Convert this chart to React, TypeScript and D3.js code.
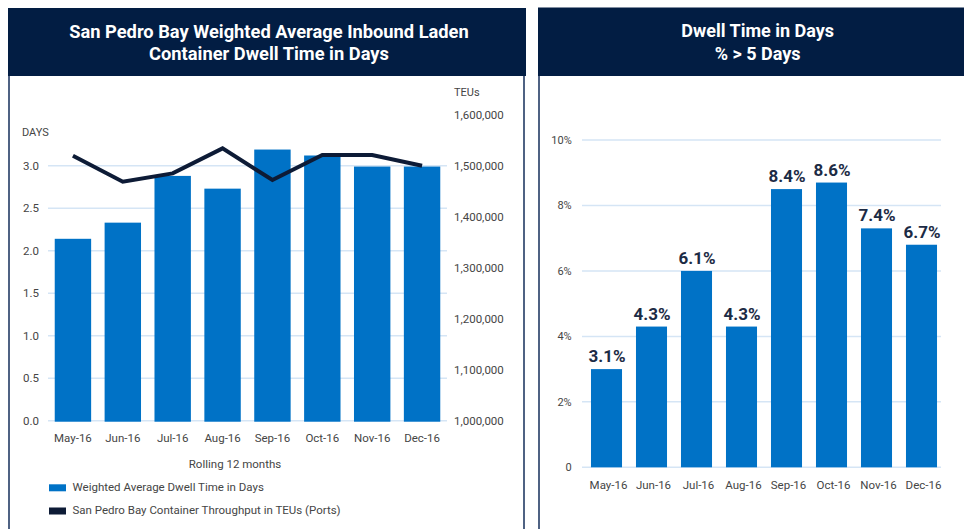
import { line, scaleBand, scaleLinear } from 'd3';

const months = ['May-16', 'Jun-16', 'Jul-16', 'Aug-16', 'Sep-16', 'Oct-16', 'Nov-16', 'Dec-16'];
const dwellDays = [2.14, 2.33, 2.88, 2.73, 3.19, 3.12, 2.99, 2.99];
const throughputTeus = [1519600, 1468600, 1484900, 1533900, 1472000, 1521000, 1521000, 1500000];
const daysTicks = [0, 0.5, 1.0, 1.5, 2.0, 2.5, 3.0];
const teuTicks = [1000000, 1100000, 1200000, 1300000, 1400000, 1500000, 1600000];

const pctOver5 = [3.0, 4.3, 6.0, 4.3, 8.5, 8.7, 7.3, 6.8];
const pctLabels = ['3.1%', '4.3%', '6.1%', '4.3%', '8.4%', '8.6%', '7.4%', '6.7%'];
const pctTicks = [0, 2, 4, 6, 8, 10];

const W = 964;
const H = 529;
const navy = '#021d43';
const border = '#4f6283';
const barBlue = '#0072c6';
const lineNavy = '#0d1b36';
const grid = '#d5e5f5';
const axisText = '#454545';
const font = 'Roboto, "Noto Sans", sans-serif';

// left panel
const L = { x0: 48, x1: 447, yZero: 420.7, yTop: 114.7 };
// right panel
const R = { x0: 582, x1: 941, yZero: 467.3, yTop: 140 };

export default function App() {
  const xLeft = scaleBand<string>()
    .domain(months)
    .range([L.x0, L.x1])
    .paddingInner(0.27)
    .paddingOuter(0.135);
  const yDays = scaleLinear().domain([0, 3.6]).range([L.yZero, L.yTop]);
  const yTeu = scaleLinear().domain([1000000, 1600000]).range([L.yZero, L.yTop]);

  const teuPath = line<number>()
    .x((_, i) => (xLeft(months[i]) ?? 0) + xLeft.bandwidth() / 2)
    .y(v => yTeu(v))(throughputTeus);

  const xRight = scaleBand<string>()
    .domain(months)
    .range([584, 944])
    .paddingInner(0.31)
    .paddingOuter(0.155);
  const yPct = scaleLinear().domain([0, 10]).range([R.yZero, R.yTop]);

  const fmt = (v: number) => v.toLocaleString('en-US');

  return (
    <svg
      width={W}
      height={H}
      viewBox={`0 0 ${W} ${H}`}
      style={{ position: 'absolute', left: 0, top: 0, fontFamily: font }}
    >
      <rect width={W} height={H} fill="#ffffff" />

      {/* panel frames */}
      <line x1={9} x2={9} y1={76} y2={H} stroke={border} strokeWidth={2} />
      <line x1={524} x2={524} y1={76} y2={H} stroke={border} strokeWidth={2} />
      <line x1={539} x2={539} y1={75} y2={H} stroke={border} strokeWidth={2} />
      <rect x={8} y={8} width={518} height={68} fill={navy} />
      <rect x={538} y={7.5} width={W - 538} height={68.5} fill={navy} />

      <text x={269} textAnchor="middle" fill="#ffffff" fontSize={18.3} fontWeight={700}>
        <tspan x={269} y={37.5}>San Pedro Bay Weighted Average Inbound Laden</tspan>
        <tspan x={269} y={60}>Container Dwell Time in Days</tspan>
      </text>
      <text x={757.7} textAnchor="middle" fill="#ffffff" fontSize={18} fontWeight={700}>
        <tspan x={757.7} y={36.5}>Dwell Time in Days</tspan>
        <tspan x={757.7} y={60}>% &gt; 5 Days</tspan>
      </text>

      {/* left chart */}
      {daysTicks.map(t => (
        <g key={`d${t}`}>
          <line x1={L.x0} x2={L.x1} y1={yDays(t)} y2={yDays(t)} stroke={grid} strokeWidth={1.5} />
          <text x={39} y={yDays(t) + 4} textAnchor="end" fontSize={11.5} fill={axisText}>
            {t.toFixed(1)}
          </text>
        </g>
      ))}
      {teuTicks.map(t => (
        <text key={`t${t}`} x={454} y={yTeu(t) + 4} fontSize={11.5} fill={axisText}>
          {fmt(t)}
        </text>
      ))}
      <text x={22} y={136} fontSize={11} fill={axisText}>DAYS</text>
      <text x={454} y={96} fontSize={11} fill={axisText}>TEUs</text>

      {months.map((m, i) => (
        <rect
          key={`lb${m}`}
          x={xLeft(m)}
          y={yDays(dwellDays[i])}
          width={xLeft.bandwidth()}
          height={L.yZero + 1 - yDays(dwellDays[i])}
          fill={barBlue}
        />
      ))}
      {teuPath && (
        <path d={teuPath} fill="none" stroke={lineNavy} strokeWidth={4} strokeLinejoin="miter" />
      )}
      {months.map(m => (
        <text
          key={`lx${m}`}
          x={(xLeft(m) ?? 0) + xLeft.bandwidth() / 2}
          y={441.5}
          textAnchor="middle"
          fontSize={11.5}
          fill={axisText}
        >
          {m}
        </text>
      ))}
      <text x={235} y={467.5} textAnchor="middle" fontSize={11.5} fill={axisText}>Rolling 12 months</text>

      <rect x={49} y={484.3} width={17} height={7} fill={barBlue} />
      <text x={72.5} y={491} fontSize={11.5} fill={axisText}>Weighted Average Dwell Time in Days</text>
      <rect x={49} y={507.5} width={17} height={7} fill={lineNavy} />
      <text x={72.5} y={514.3} fontSize={11.5} fill={axisText}>San Pedro Bay Container Throughput in TEUs (Ports)</text>

      {/* right chart */}
      {pctTicks.map(t => (
        <g key={`p${t}`}>
          <line x1={R.x0} x2={R.x1} y1={yPct(t)} y2={yPct(t)} stroke={grid} strokeWidth={1.5} />
          <text x={571.7} y={yPct(t) + 4} textAnchor="end" fontSize={11} fill={axisText}>
            {t === 0 ? '0' : `${t}%`}
          </text>
        </g>
      ))}
      {months.map((m, i) => {
        const x = xRight(m) ?? 0;
        const y = yPct(pctOver5[i]);
        return (
          <g key={`rb${m}`}>
            <rect x={x} y={y} width={xRight.bandwidth()} height={R.yZero - y} fill={barBlue} />
            <text
              x={x + xRight.bandwidth() / 2 + 0.5}
              y={y - 7}
              textAnchor="middle"
              fontSize={17}
              fontWeight={700}
              fill="#1c2b45"
            >
              {pctLabels[i]}
            </text>
            <text x={x + xRight.bandwidth() / 2 + 2} y={488.5} textAnchor="middle" fontSize={11.5} fill={axisText}>
              {m}
            </text>
          </g>
        );
      })}
    </svg>
  );
}
